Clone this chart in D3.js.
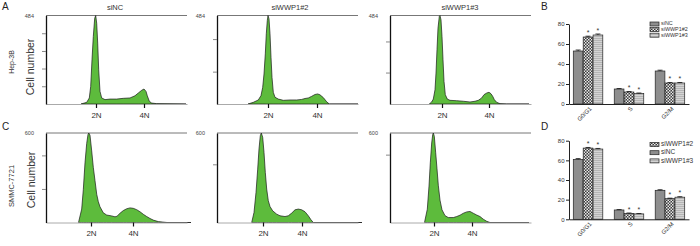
<!DOCTYPE html>
<html lang="en">
<head>
<meta charset="UTF-8">
<title>WWP1 cell cycle</title>
<script src="https://d3js.org/d3.v7.min.js"></script>
<style>
  body { margin: 0; background: #fff; }
  svg { display: block; font-family: "Liberation Sans", Arial, sans-serif; }
  .hist { fill: #5dbb3c; stroke: #1a1a1a; stroke-width: 0.7px; stroke-linejoin: round; }
  .frame-top { stroke: #777; stroke-width: 1px; }
  .yax .domain { stroke: #111; stroke-width: 1.3px; }
  .yax .tick line { stroke: #888; }
  .xax .domain { stroke: #aaa; }
  .xax .tick line { stroke: #111; stroke-width: 1.2px; }
  .xax text { font-size: 8px; fill: #333; }
  .bar-ax .domain, .bar-ax .tick line { stroke: #222; }
  .bar-ax text { font-size: 6px; fill: #333; }
  .bar { stroke: #222; stroke-width: 0.7px; }
  .panel-letter { font-size: 10px; fill: #222; }
</style>
</head>
<body>
<div id="chart"></div>
<script>
// flow histograms: [DNA channel, cell count]
var hepNC = [[35,0],[40.7,9],[43.3,33],[44.7,96],[46,242],[47.3,369],[48.7,469],[49.7,484],[50.7,442],[51.7,333],[52.7,187],[54,69],[55.7,33],[59,24],[64,27],[70.7,27],[77.3,31],[84,33],[89,45],[92.3,60],[95.7,75],[98,82],[100,69],[101.3,45],[103.3,15],[105.7,5],[110.7,2],[140,0]];
var hepSi2 = [[31,0],[36.3,9],[41.3,22],[44,46],[45.7,91],[47,164],[48.3,274],[49.3,384],[50.3,457],[51,484],[52,466],[53,384],[54,256],[55,146],[56.3,64],[58,37],[61.3,27],[66.3,20],[73,22],[79.7,22],[84.7,25],[88,30],[91.3,33],[94.7,42],[98,52],[100.7,55],[103,50],[106.3,35],[109.7,12],[112.3,0],[141,0]];
var hepSi3 = [[39.3,0],[41.7,11],[43.3,27],[45,78],[46,169],[47,297],[48,415],[49.3,479],[50,484],[51,460],[52,369],[53,242],[54,124],[55.3,51],[57.3,27],[60,20],[66.7,18],[73.3,15],[80,11],[85,15],[88.3,20],[91.7,33],[94,51],[96.7,60],[99,64],[101,56],[102.7,42],[104.3,24],[106.7,9],[110,2],[116.7,0],[139,0]];
var smmcNC = [[32.5,0],[35.7,90],[37.3,220],[39,400],[40.7,530],[42,590],[42.8,600],[44,585],[45.7,480],[47.3,370],[49,280],[50.7,190],[52.3,140],[54,105],[57.3,65],[60.7,50],[65.7,44],[69,38],[71,42],[74,62],[77.3,80],[80.7,92],[84,98],[87.3,95],[90.7,86],[94,72],[97.3,55],[100.7,40],[104,27],[107.3,16],[112.3,6],[121,0],[145,0]];
var smmcSi2 = [[34.7,0],[37,67],[39,201],[40.7,358],[42,493],[43.3,582],[44.3,600],[45.7,571],[47,470],[48.3,336],[49.7,224],[51.3,146],[53,107],[55.7,78],[59.7,56],[63,45],[68,40],[71.3,45],[74.7,63],[78,85],[81.3,90],[84.7,85],[88,72],[91.3,45],[94,18],[96.3,0],[145,0]];
var smmcSi3 = [[34.5,0],[37.3,89],[39,244],[40.3,400],[41.7,533],[42.7,589],[43.3,600],[44.3,578],[45.7,467],[47,360],[48.3,250],[50,150],[52,85],[55,46],[58.3,33],[63.3,33],[66.7,40],[70,49],[73.3,62],[76.7,71],[80,74],[83.3,62],[86.7,50],[90,40],[93.3,22],[96.7,8],[100,0],[139,0]];

var histTitles = ["siNC", "siWWP1#2", "siWWP1#3"];
var hepYMax = 484, smmcYMax = 600;
var hepYTicks = [[97,194,290,387],[177,355],[172,342]];
var smmcYTicks = [[225,450],[390],[455]];
var hepPloidy = [[50,98],[51,100],[52,99]];
var smmcPloidy = [[45,87],[46,85],[44,82]];
var ploidyLabels = ["2N", "4N"];

// cell cycle distribution (%)
var phases = ["G0/G1", "S", "G2/M"];
var groups = ["siNC", "siWWP1#2", "siWWP1#3"];
var hepPct = { "siNC": [53,15,33], "siWWP1#2": [67,12,21], "siWWP1#3": [69,10.5,21] };
var hepErr = { "siNC": [1,0.5,0.8], "siWWP1#2": [0.8,0.5,0.5], "siWWP1#3": [1,0.5,0.5] };
var smmcPct = { "siNC": [61,9.5,29.5], "siWWP1#2": [72.5,6,21], "siWWP1#3": [71.5,5.5,22.5] };
var smmcErr = { "siNC": [0.8,0.4,0.6], "siWWP1#2": [0.6,0.4,0.5], "siWWP1#3": [0.6,0.4,0.5] };
var hepLegend = ["siNC", "siWWP1#2", "siWWP1#3"];
var smmcLegend = ["siWWP1#2", "siNC", "siWWP1#3"];
var pctTicks = [0,20,40,60,80];

var svg = d3.select("#chart").append("svg").attr("width", 700).attr("height", 246);

var defs = svg.append("defs");
var chk = defs.append("pattern").attr("id", "checker").attr("patternUnits", "userSpaceOnUse")
  .attr("width", 3).attr("height", 3);
chk.append("rect").attr("width", 3).attr("height", 3).attr("fill", "#3c3c3c");
chk.append("rect").attr("width", 1.5).attr("height", 1.5).attr("fill", "#e8e8e8");
chk.append("rect").attr("x", 1.5).attr("y", 1.5).attr("width", 1.5).attr("height", 1.5).attr("fill", "#e8e8e8");
var str = defs.append("pattern").attr("id", "stripes").attr("patternUnits", "userSpaceOnUse")
  .attr("width", 4).attr("height", 2);
str.append("rect").attr("width", 4).attr("height", 2).attr("fill", "#d4d4d4");
str.append("rect").attr("width", 4).attr("height", 0.7).attr("fill", "#a8a8a8");

var fills = { "siNC": "#8e8e8e", "siWWP1#2": "url(#checker)", "siWWP1#3": "url(#stripes)" };

// ---------- flow histograms ----------
var axisXs = [46, 217, 390];
function drawHist(g, data, x0, top, base, ymax, yticks, ploidy, topLabel) {
  var x = d3.scaleLinear().domain([0, 141]).range([x0, x0 + 141]);
  var y = d3.scaleLinear().domain([0, ymax]).range([base, top]);

  g.append("line").attr("class", "frame-top")
    .attr("x1", x0).attr("x2", x0 + 141).attr("y1", top).attr("y2", top);

  var area = d3.area().x(d => x(d[0])).y0(base).y1(d => y(Math.min(d[1], ymax)));
  g.append("path").datum(data).attr("class", "hist").attr("d", area);

  g.append("g").attr("class", "xax")
    .attr("transform", "translate(0," + base + ")")
    .call(d3.axisBottom(x).tickValues(ploidy).tickSize(4).tickSizeOuter(0).tickPadding(4)
      .tickFormat((d, i) => ploidyLabels[i]));

  g.append("g").attr("class", "yax")
    .attr("transform", "translate(" + x0 + ",0)")
    .call(d3.axisLeft(y).tickValues(yticks).tickSize(4).tickSizeOuter(0).tickFormat(""));

  g.append("text").attr("x", x0 - 12).attr("y", top + 2).attr("text-anchor", "end")
    .attr("font-size", 5.5).attr("fill", "#444").text(topLabel);
}

var hepHists = [hepNC, hepSi2, hepSi3];
var smmcHists = [smmcNC, smmcSi2, smmcSi3];
hepHists.forEach(function (d, i) {
  drawHist(svg.append("g"), d, axisXs[i], 15.5, 104, hepYMax, hepYTicks[i], hepPloidy[i], String(hepYMax));
  svg.append("text").attr("x", axisXs[i] + [69, 73, 70][i]).attr("y", 9.5).attr("text-anchor", "middle")
    .attr("font-size", 7.5).attr("fill", "#333").text(histTitles[i]);
});
smmcHists.forEach(function (d, i) {
  drawHist(svg.append("g"), d, axisXs[i], 133, 222.5, smmcYMax, smmcYTicks[i], smmcPloidy[i], String(smmcYMax));
});

function vlabel(x, y, size, txt) {
  svg.append("text").attr("transform", "translate(" + x + "," + y + ") rotate(-90)")
    .attr("text-anchor", "middle").attr("font-size", size).attr("fill", "#333").text(txt);
}
vlabel(33.5, 67, 10.5, "Cell number");
vlabel(13.5, 62, 7, "Hep-3B");
vlabel(34.5, 180, 10.5, "Cell number");
vlabel(14, 186, 7.5, "SMMC-7721");

svg.append("text").attr("class", "panel-letter").attr("x", 2).attr("y", 10).text("A");
svg.append("text").attr("class", "panel-letter").attr("x", 2).attr("y", 130).text("C");
svg.append("text").attr("class", "panel-letter").attr("x", 541).attr("y", 10).text("B");
svg.append("text").attr("class", "panel-letter").attr("x", 541).attr("y", 130).text("D");

// ---------- bar charts ----------
function drawBars(pct, err, legend, base, top, legendY, legendGap, legendFont) {
  var g = svg.append("g");
  var x = d3.scaleBand().domain(phases).range([569, 689]).paddingInner(0.27).paddingOuter(0.1);
  var xi = d3.scaleBand().domain(groups).range([0, x.bandwidth()]).padding(0.02);
  var y = d3.scaleLinear().domain([0, 80]).range([base, top]);

  phases.forEach(function (p, pi) {
    groups.forEach(function (grp) {
      var v = pct[grp][pi], e = err[grp][pi];
      var bx = x(p) + xi(grp), bw = xi.bandwidth();
      g.append("rect").attr("class", "bar").attr("x", bx).attr("y", y(v))
        .attr("width", bw).attr("height", base - y(v)).attr("fill", fills[grp]);
      g.append("line").attr("x1", bx + bw / 2).attr("x2", bx + bw / 2)
        .attr("y1", y(v)).attr("y2", y(v + e)).attr("stroke", "#111").attr("stroke-width", 0.8);
      g.append("line").attr("x1", bx + bw / 2 - 2.5).attr("x2", bx + bw / 2 + 2.5)
        .attr("y1", y(v + e)).attr("y2", y(v + e)).attr("stroke", "#111").attr("stroke-width", 0.8);
      if (grp !== "siNC") {
        g.append("text").attr("x", bx + bw / 2).attr("y", y(v + e) - 1.5).attr("text-anchor", "middle")
          .attr("font-size", 7).attr("fill", "#333").text("*");
      }
    });
  });

  g.append("g").attr("class", "bar-ax").attr("transform", "translate(569,0)")
    .call(d3.axisLeft(y).tickValues(pctTicks).tickSize(3).tickSizeOuter(0).tickPadding(1.5));
  g.append("g").attr("class", "bar-ax").attr("transform", "translate(0," + base + ")")
    .call(d3.axisBottom(x).tickSize(0).tickSizeOuter(0).tickFormat(""));

  phases.forEach(function (p) {
    g.append("text").attr("transform", "translate(" + (x(p) + x.bandwidth() / 2 + 3) + "," + (base + 4) + ") rotate(-45)")
      .attr("text-anchor", "end").attr("dominant-baseline", "middle")
      .attr("font-size", 6).attr("fill", "#333").text(p);
  });

  legend.forEach(function (grp, i) {
    var ly = legendY + i * legendGap;
    g.append("rect").attr("class", "bar").attr("x", 650).attr("y", ly - 2)
      .attr("width", 9).attr("height", 4).attr("fill", fills[grp]);
    g.append("text").attr("x", 661).attr("y", ly).attr("dominant-baseline", "middle")
      .attr("font-size", legendFont).attr("fill", "#333").text(grp);
  });
}
drawBars(hepPct, hepErr, hepLegend, 104, 24, 24, 5.6, 5.4);
drawBars(smmcPct, smmcErr, smmcLegend, 219.3, 140.7, 144.5, 8.2, 6.5);
</script>
</body>
</html>
